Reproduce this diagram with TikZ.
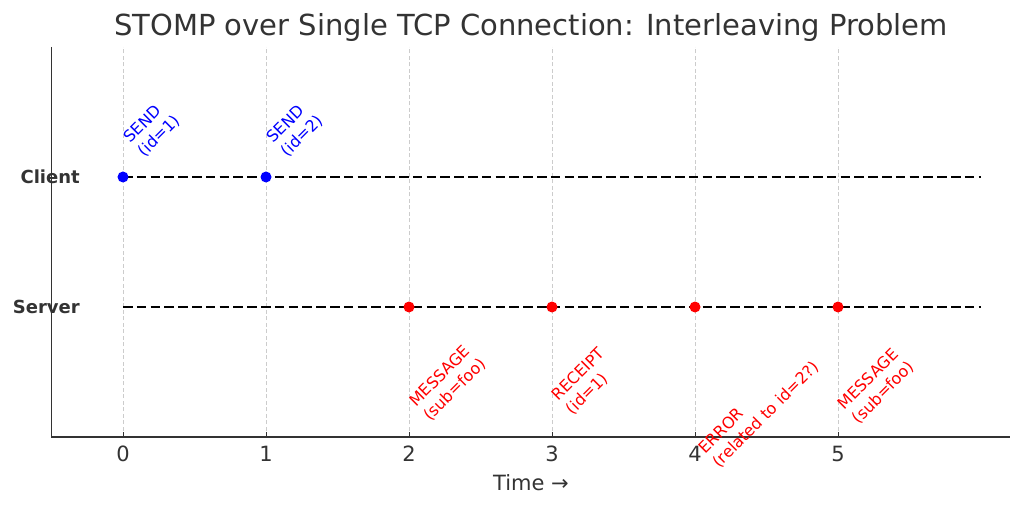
\documentclass[tikz,border=0pt]{standalone}
\usepackage{fontspec}
\setmainfont{DejaVu Sans}
\usepackage{xcolor}
\usetikzlibrary{positioning}
\definecolor{axisgray}{HTML}{333333}
\definecolor{gridgray}{HTML}{CCCCCC}
\tikzset{>=latex}

\begin{document}
\begin{tikzpicture}[
            x=143pt, y=130pt,
            spine/.style={draw=axisgray, line width=1.4pt},
            gridline/.style={draw=gridgray, line width=0.8pt, dash pattern=on 4pt off 2.5pt},
            tickmark/.style={draw=axisgray, line width=1pt},
            ticklbl/.style={anchor=base, inner sep=0, text=axisgray, font=\fontsize{21}{25}\selectfont},
            party/.style={anchor=east, inner sep=0, text=axisgray, font=\fontsize{18}{21}\selectfont\bfseries},
            timeline/.style={draw=black, line width=2.4pt, dash pattern=on 9.6pt off 4.2pt},
            clientdot/.style={circle, fill=blue, minimum size=11pt, inner sep=0},
            serverdot/.style={circle, fill=red, minimum size=11pt, inner sep=0},
            clientlbl/.style={rotate=45, anchor=north west, inner sep=0, align=left, text=blue, font=\fontsize{16}{20}\selectfont},
            serverlbl/.style={rotate=45, anchor=north west, inner sep=0, align=left, text=red, font=\fontsize{16}{20}\selectfont}
        ]
        \useasboundingbox (-0.86014,-1.54615) rectangle (6.30070,2.36154);
        % axes frame
        \coordinate (corner) at (-0.5,-1);
        \coordinate (ytop) at (-0.5,2);
        \coordinate (xend) at (6.2,-1);
        % grid
        \draw[gridline] (0,-1) -- (0,2);
        \draw[gridline] (1,-1) -- (1,2);
        \draw[gridline] (2,-1) -- (2,2);
        \draw[gridline] (3,-1) -- (3,2);
        \draw[gridline] (4,-1) -- (4,2);
        \draw[gridline] (5,-1) -- (5,2);
        \draw[spine] (ytop) -- (corner) -- (xend);
        \draw[tickmark] (0,-1) -- ++(0,5pt);
        \draw[tickmark] (1,-1) -- ++(0,5pt);
        \draw[tickmark] (2,-1) -- ++(0,5pt);
        \draw[tickmark] (3,-1) -- ++(0,5pt);
        \draw[tickmark] (4,-1) -- ++(0,5pt);
        \draw[tickmark] (5,-1) -- ++(0,5pt);
        \node[ticklbl] (t0) at (0,-1.192) {0};
        \node[ticklbl] (t1) at (1,-1.192) {1};
        \node[ticklbl] (t2) at (2,-1.192) {2};
        \node[ticklbl] (t3) at (3,-1.192) {3};
        \node[ticklbl] (t4) at (4,-1.192) {4};
        \node[ticklbl] (t5) at (5,-1.192) {5};
        \node[ticklbl] (xlabel) at (2.853,-1.408) {Time →};
        \node[anchor=base, inner sep=0, text=axisgray, font=\fontsize{29}{34}\selectfont] (title) at (2.853,2.092) {STOMP over Single TCP Connection: Interleaving Problem};
        % the two parties
        \node[party] (client) at (-0.301,1) {Client};
        \node[party] (server) at (-0.301,0) {Server};
        \coordinate (cstart) at (0,1);
        \coordinate (cend) at (6,1);
        \coordinate (sstart) at (0,0);
        \coordinate (send) at (6,0);
        \path[timeline] (cstart) -- (cend);
        \path[timeline] (sstart) -- (send);
        % frames
        \node[clientdot] (send1) at (0,1) {};
        \node[clientdot] (send2) at (1,1) {};
        \node[serverdot] (msg1) at (2,0) {};
        \node[serverdot] (receipt) at (3,0) {};
        \node[serverdot] (error) at (4,0) {};
        \node[serverdot] (msg2) at (5,0) {};
        \node[clientlbl] (send1lbl) at ([shift={(-1pt,42pt)}]send1.center) {SEND\\(id=1)};
        \node[clientlbl] (send2lbl) at ([shift={(-1pt,42pt)}]send2.center) {SEND\\(id=2)};
        \node[serverlbl] (msg1lbl) at ([shift={(-1.5pt,-92pt)}]msg1.center) {MESSAGE\\(sub=foo)};
        \node[serverlbl] (receiptlbl) at ([shift={(-2pt,-86pt)}]receipt.center) {RECEIPT\\(id=1)};
        \node[serverlbl] (errorlbl) at ([shift={(1.5pt,-139pt)}]error.center) {ERROR\\(related to id=2?)};
        \node[serverlbl] (msg2lbl) at ([shift={(-2pt,-95pt)}]msg2.center) {MESSAGE\\(sub=foo)};
        \end{tikzpicture}
\end{document}
